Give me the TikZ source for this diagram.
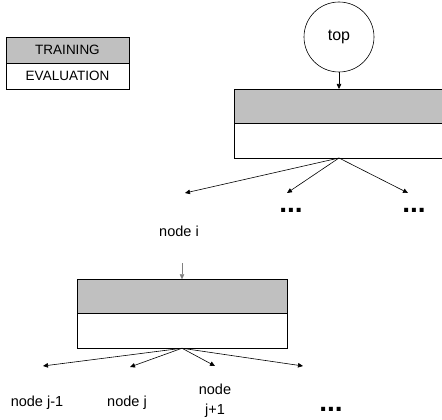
\documentclass[tikz,border=0pt]{standalone}
\usepackage{fontspec}
\setmainfont{Liberation Sans}
\usetikzlibrary{arrows.meta,positioning}
\definecolor{boxgray}{HTML}{C0C0C0}

\begin{document}
\begin{tikzpicture}[x=1pt, y=-1pt,
  every node/.style={font=\fontsize{14.5}{20}\selectfont},
  trainbox/.style={draw, fill=boxgray, minimum width=210pt, minimum height=34.5pt, inner sep=0pt, outer sep=0pt, line width=0.8pt},
  evalbox/.style={trainbox, fill=white},
  legendbox/.style={draw, minimum width=123pt, minimum height=26pt, inner sep=0pt, outer sep=0pt, line width=0.8pt, font=\fontsize{13.5}{16}\selectfont},
  dots/.style={inner sep=0pt, font=\fontsize{28}{28}\selectfont\bfseries},
  arr/.style={-{Triangle[length=5pt,width=4.5pt]}, line width=0.6pt}]
\clip (0,0) rectangle (442,420);

% Legend
\node[legendbox, fill=boxgray] (lgtrain) at (67.5,50) {TRAINING};
\node[legendbox, below=0pt of lgtrain] (lgeval) {EVALUATION};

% Top node and its box (runs off the right edge)
\node[draw, circle, minimum size=70pt, inner sep=0pt, line width=0.6pt, font=\fontsize{16}{20}\selectfont] (top) at (339,37) {top};
\node[trainbox, minimum width=220pt, anchor=north west] (train1) at (234,89) {};
\node[evalbox, minimum width=220pt, below=0pt of train1] (eval1) {};
\draw[arr] (top) -- (top |- train1.north);

% Children of top
\coordinate (c1) at (185,193);
\coordinate (c2) at (287,193);
\coordinate (c3) at (408,193);
\foreach \c in {c1,c2,c3}
  \draw[arr] (top |- eval1.south) -- (\c);
\node[dots] (dots1) at (291,210) {...};
\node[dots] (dots2) at (414,210) {...};

% node i and its box
\node[anchor=base] (nodei) at (179,236) {node i};
\coordinate (in2) at (182,263);
\node[trainbox] (train2) at (182,296.5) {};
\node[evalbox, below=0pt of train2] (eval2) {};
\draw[arr, line width=0.4pt, gray] (in2) -- (train2);

% Children of node i
\coordinate (d1) at (43,366);
\coordinate (d2) at (130,367);
\coordinate (d3) at (215,366);
\coordinate (d4) at (303,366);
\foreach \d in {d1,d2,d3,d4}
  \draw[arr] (eval2.south) -- (\d);
\node[anchor=base] (nodejm) at (37,406) {node j-1};
\node[anchor=base] (nodej) at (127,406) {node j};
\node[align=center] (nodejp) at (215,401) {node\\j+1};
\node[dots] (dots3) at (331,409.5) {...};

\end{tikzpicture}
\end{document}
